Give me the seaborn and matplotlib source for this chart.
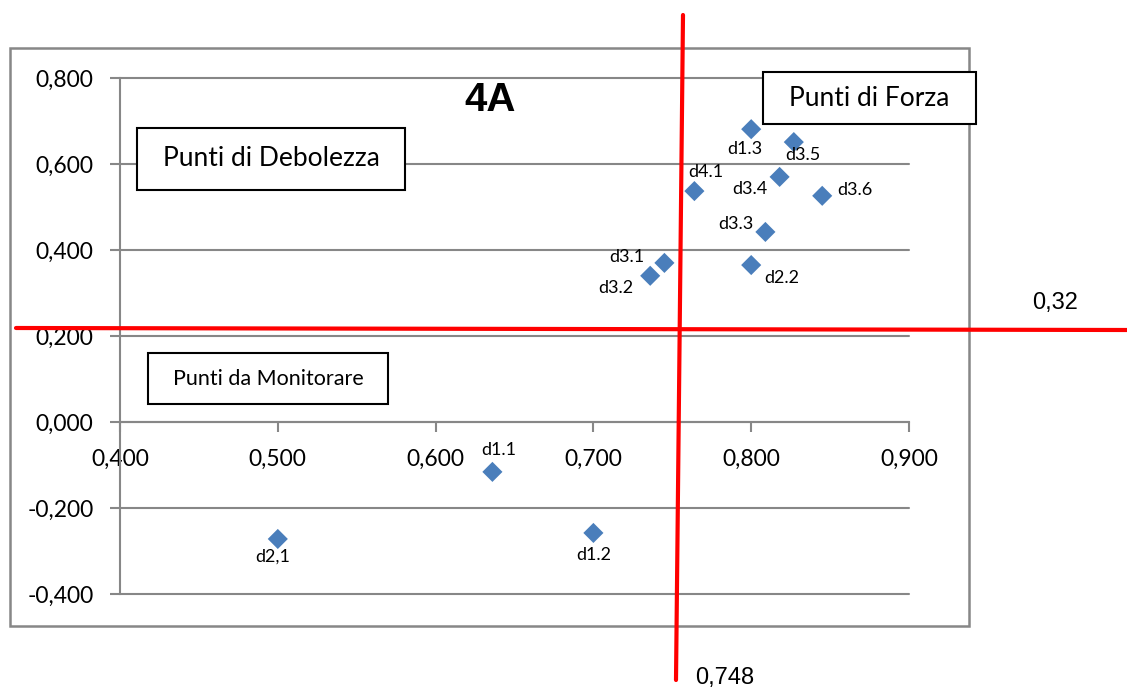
import numpy as np
import pandas as pd
import seaborn as sns
from matplotlib import pyplot as plt
from matplotlib.patches import Rectangle
from matplotlib.lines import Line2D

# data
labels = ['d1.3', 'd3.5', 'd4.1', 'd3.4', 'd3.6', 'd3.3',
          'd2.2', 'd3.1', 'd3.2', 'd1.1', 'd1.2', 'd2,1']
x_vals = [0.800, 0.827, 0.764, 0.818, 0.845, 0.809,
          0.800, 0.745, 0.736, 0.636, 0.700, 0.500]
y_vals = [0.681, 0.651, 0.537, 0.570, 0.526, 0.442,
          0.365, 0.370, 0.340, -0.116, -0.258, -0.272]
x_ticks = [0.4, 0.5, 0.6, 0.7, 0.8, 0.9]
y_ticks = [-0.4, -0.2, 0.0, 0.2, 0.4, 0.6, 0.8]
threshold_x = '0,748'
threshold_y = '0,32'
chart_title = '4A'
quadrants = ['Punti di Forza', 'Punti di Debolezza', 'Punti da Monitorare']

df = pd.DataFrame({'x': x_vals, 'y': y_vals, 'label': labels})

# label offsets in pixels (dx, dy)
offsets = [(-6, -20), (9, -13), (11, 19), (-30, -12), (33, 6), (-30, 8),
           (31, -13), (-38, 6), (-34, -12), (6, 22), (0, -22), (-5, -18)]

sns.set_style('white')
plt.rcParams['font.family'] = ['Lato', 'DejaVu Sans']
plt.rcParams['text.color'] = 'black'

W, H = 1127, 689
fig = plt.figure(figsize=(W / 100, H / 100), dpi=100)

def fx(px):
    return px / W

def fy(py):
    return 1 - py / H

grey = '#878787'

# outer chart frame
fig.add_artist(Rectangle((fx(10), fy(626)), fx(969) - fx(10), fy(48) - fy(626),
                         transform=fig.transFigure, fill=False,
                         edgecolor=grey, lw=1.8, zorder=0))

ax = fig.add_axes([fx(120), fy(594), fx(909) - fx(120), fy(78) - fy(594)])
ax.patch.set_alpha(0)

sns.scatterplot(data=df, x='x', y='y', marker='D', s=105, color='#4A7EBB',
                edgecolor='none', ax=ax, zorder=4, clip_on=False)

for (xv, yv, lab), (dx, dy) in zip(zip(x_vals, y_vals, labels), offsets):
    ax.annotate(lab, (xv, yv), xytext=(dx, dy), textcoords='offset pixels',
                ha='center', va='center', fontsize=13, zorder=5)

ax.spines['top'].set_visible(False)
ax.spines['right'].set_visible(False)
ax.spines['bottom'].set_position(('data', 0))
for s in ['left', 'bottom']:
    ax.spines[s].set_color(grey)
    ax.spines[s].set_linewidth(1.5)

ax.set_xlim(0.4, 0.9)
ax.set_ylim(-0.4, 0.8)
ax.set_xticks(x_ticks)
ax.set_yticks(y_ticks)
ax.set_xticklabels(['{:.3f}'.format(v).replace('.', ',') for v in x_ticks])
ax.set_yticklabels(['{:.3f}'.format(v).replace('.', ',') for v in y_ticks])
ax.set_xlabel('')
ax.set_ylabel('')
ax.tick_params(axis='both', direction='out', length=7, width=1.5, color=grey,
               pad=12, labelcolor='black', labelsize=16.5,
               bottom=True, left=True)

ax.yaxis.grid(True, color=grey, lw=1.5)
ax.xaxis.grid(False)
for gl in ax.get_ygridlines():
    gl.set_clip_on(False)

# title inside the plot
fig.text(fx(490), fy(100), chart_title, fontsize=29, fontweight='bold',
         family='Liberation Sans', ha='center', va='center')

# quadrant boxes
boxes = [(763, 72, 976, 124, 19), (137, 128, 405, 190, 19), (148, 353, 388, 404, 15.5)]
for name, (x0, y0, x1, y1, fs) in zip(quadrants, boxes):
    fig.add_artist(Rectangle((fx(x0), fy(y1)), fx(x1) - fx(x0), fy(y0) - fy(y1),
                             transform=fig.transFigure, facecolor='white',
                             edgecolor='black', lw=1.5, zorder=6))
    fig.text(fx((x0 + x1) / 2), fy((y0 + y1) / 2), name, fontsize=fs,
             ha='center', va='center', zorder=7)

# red threshold lines drawn over the whole chart
fig.add_artist(Line2D([fx(683), fx(676)], [fy(15), fy(680)], color='#FF0000',
                      lw=3, transform=fig.transFigure, zorder=8))
fig.add_artist(Line2D([fx(16), fx(1127)], [fy(328), fy(330)], color='#FF0000',
                      lw=3, transform=fig.transFigure, zorder=8))
fig.text(fx(725), fy(678), threshold_x, fontsize=17, family='Liberation Sans',
         ha='center', va='center')
fig.text(fx(1055), fy(303), threshold_y, fontsize=17, family='Liberation Sans',
         ha='center', va='center')

plt.savefig('out.png', dpi=100)
